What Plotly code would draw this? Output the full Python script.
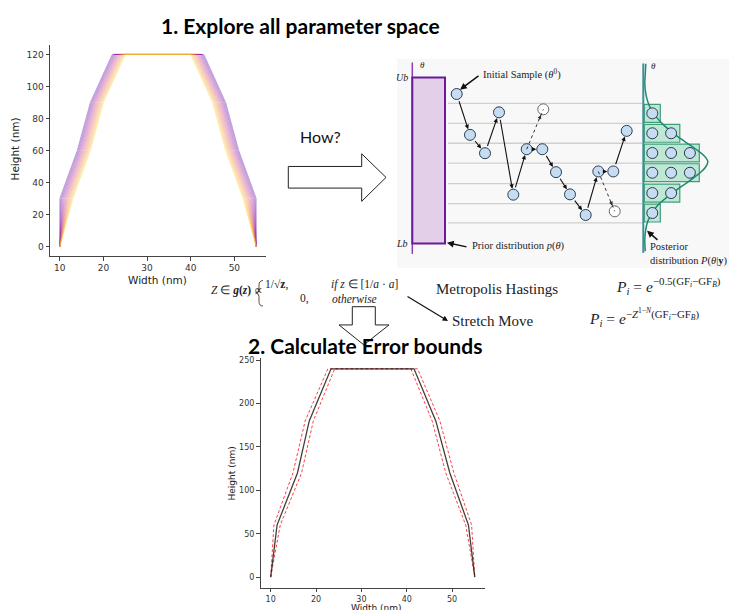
import plotly.graph_objects as go
from plotly.colors import sample_colorscale

W, H = 729, 610

# ---------------- data: top-left chart (parameter sweep) ----------------
sweep_heights = [0, 30, 60, 90, 120, 120, 90, 60, 30, 0]
sweep_base_x = [10, 10, 14, 17, 22, 43, 48, 51, 55, 55]      # outermost (purple) profile
sweep_shift_sign = [0, 1, 1, 1, 1, -1, -1, -1, -1, 0]        # inward direction per vertex
sweep_shifts = [0.0, 0.2, 0.4, 0.6, 0.8, 1.0, 1.2, 1.4, 1.6, 1.8,
                2.0, 2.2, 2.4, 2.6, 2.8, 3.0]
top_xticks = [10, 20, 30, 40, 50]
top_yticks = [0, 20, 40, 60, 80, 100, 120]

# ---------------- data: bottom chart (error bounds) ----------------
eb_heights = [0, 60, 120, 180, 240, 240, 180, 120, 60, 0]
eb_mean = [10, 11.4, 15.9, 18.5, 23.3, 41.6, 46.4, 49.5, 53.6, 55]
eb_outer = [10, 10.7, 14.9, 17.6, 22.6, 42.4, 47.3, 50.4, 54.3, 55]
eb_inner = [10, 12.1, 16.8, 19.4, 24.1, 40.9, 45.6, 48.6, 53.0, 55]
bot_xticks = [10, 20, 30, 40, 50]
bot_yticks = [0, 50, 100, 150, 200, 250]

# ---------------- data: MCMC illustration (canvas units = pixels) ----------------
chain_x = [456.7, 470.0, 485.0, 499.0, 513.3, 526.7, 542.3, 556.0, 570.0, 585.7, 598.3, 613.3, 626.7]
chain_y = [92.3, 133.3, 151.7, 110.7, 193.3, 147.7, 147.7, 170.7, 193.0, 213.7, 170.0, 170.0, 129.3]
reject_from = [5, 10]
reject_x = [543.3, 614.7]
reject_y = [107.7, 210.0]
level_y = [101.7, 121.7, 141.7, 161.7, 182.3, 202.3, 221.7]
hist_counts = [1, 2, 3, 3, 2, 1]
hist_top = [102.7, 122.7, 142.5, 162.3, 182.7, 202.7]
post_y = [62, 72, 82, 92, 100, 108, 116, 124, 132, 140, 148, 154, 160, 166, 172, 180,
          188, 196, 204, 212, 220, 228, 238, 250]
post_dx = [2.5, 2.0, 1.5, 2.5, 4.5, 8.0, 13.5, 21.0, 30.5, 41.5, 53.0, 60.5, 64.5, 62.0,
           56.0, 45.5, 34.0, 23.5, 14.5, 8.5, 4.5, 2.5, 1.5, 2.0]

fig = go.Figure()

# ---- top-left sweep lines ----
cols = sample_colorscale('Plasma', [0.12 + 0.8 * i / (len(sweep_shifts) - 1) for i in range(len(sweep_shifts))])
for s, c in zip(sweep_shifts, cols):
    xs = [bx + s * sg for bx, sg in zip(sweep_base_x, sweep_shift_sign)]
    fig.add_trace(go.Scatter(x=xs, y=sweep_heights, mode='lines', xaxis='x', yaxis='y',
                             line=dict(color=c, width=0.9), opacity=0.38, hoverinfo='skip', showlegend=False))

# ---- bottom error bounds ----
fig.add_trace(go.Scatter(x=eb_outer, y=eb_heights, mode='lines', xaxis='x2', yaxis='y2',
                         line=dict(color='rgba(255,0,0,0.75)', width=1, dash='3px,2px'), showlegend=False))
fig.add_trace(go.Scatter(x=eb_inner, y=eb_heights, mode='lines', xaxis='x2', yaxis='y2',
                         line=dict(color='rgba(255,0,0,0.75)', width=1, dash='3px,2px'), showlegend=False))
fig.add_trace(go.Scatter(x=eb_mean, y=eb_heights, mode='lines', xaxis='x2', yaxis='y2',
                         line=dict(color='rgba(30,30,30,0.85)', width=1.3), showlegend=False))

shapes = []
annos = []

# ---- diagram background ----
shapes.append(dict(type='rect', xref='x3', yref='y3', x0=397, x1=729, y0=57, y1=267,
                   fillcolor='#f8f8f8', line=dict(width=0), layer='below'))
for ly in level_y:
    shapes.append(dict(type='line', xref='x3', yref='y3', x0=448, x1=642, y0=ly, y1=ly,
                       line=dict(color='#cfcfcf', width=1.3), layer='below'))
shapes.append(dict(type='line', xref='x3', yref='y3', x0=412.3, x1=412.3, y0=60.7, y1=252.7,
                   line=dict(color='#8a3fb0', width=1.5)))
shapes.append(dict(type='rect', xref='x3', yref='y3', x0=412.3, x1=445, y0=75.7, y1=242.3,
                   fillcolor='#e4cfe8', line=dict(color='#6a1b9a', width=2)))
shapes.append(dict(type='line', xref='x3', yref='y3', x0=643.3, x1=643.3, y0=61.7, y1=251.7,
                   line=dict(color='#3f8f95', width=2)))
hist_cx, hist_cy = [], []
for cnt, top in zip(hist_counts, hist_top):
    shapes.append(dict(type='rect', xref='x3', yref='y3', x0=644.3, x1=644.3 + 19.5 * cnt - 3.5,
                       y0=top, y1=top + 18, fillcolor='#bfe8d4', line=dict(color='#3f9e7c', width=1.2),
                       layer='below'))
    for k in range(cnt):
        hist_cx.append(652.3 + 18.8 * k)
        hist_cy.append(top + 9)

# hollow "How?" arrow
shapes.append(dict(type='path', xref='x3', yref='y3',
                   path='M288.3,165 L361.7,165 L361.7,152.3 L386,176 L361.7,200 L361.7,186.7 L288.3,186.7 Z',
                   fillcolor='white', line=dict(color='#222', width=1)))
# hollow down arrow
shapes.append(dict(type='path', xref='x3', yref='y3',
                   path='M352.3,305.7 L375.3,305.7 L375.3,324 L389,324 L363.8,344 L339,324 L352.3,324 Z',
                   fillcolor='white', line=dict(color='#222', width=1)))
# curly brace of the piecewise definition
shapes.append(dict(type='path', xref='x3', yref='y3',
                   path='M263,279.5 Q259,279.5 259,284 L259,288.5 Q259,292 255.5,292 Q259,292 259,295.5 '
                        'L259,300.5 Q259,305 263,305',
                   line=dict(color='#6b4436', width=1)))

# posterior curve
fig.add_trace(go.Scatter(x=[643.3 + d for d in post_dx], y=post_y, mode='lines', xaxis='x3', yaxis='y3',
                         line=dict(color='#1f8a6c', width=1.5, shape='spline'), hoverinfo='skip', showlegend=False))
fig.add_trace(go.Scatter(x=chain_x, y=chain_y, mode='markers', xaxis='x3', yaxis='y3',
                         marker=dict(size=11, color='#c6dcf3', line=dict(color='#2c3e50', width=1)),
                         hoverinfo='skip', showlegend=False))
fig.add_trace(go.Scatter(x=reject_x, y=reject_y, mode='markers', xaxis='x3', yaxis='y3',
                         marker=dict(size=11, color='white', line=dict(color='#666', width=1)),
                         hoverinfo='skip', showlegend=False))
fig.add_trace(go.Scatter(x=hist_cx, y=hist_cy, mode='markers', xaxis='x3', yaxis='y3',
                         marker=dict(size=11, color='#c6dcf3', line=dict(color='#2c3e50', width=1)),
                         hoverinfo='skip', showlegend=False))
for i, rx, ry in zip(reject_from, reject_x, reject_y):
    fig.add_trace(go.Scatter(x=[chain_x[i], rx], y=[chain_y[i], ry], mode='lines', xaxis='x3', yaxis='y3',
                             line=dict(color='#333', width=1, dash='dot'), hoverinfo='skip', showlegend=False))
    annos.append(dict(xref='x3', yref='y3', axref='x3', ayref='y3', x=rx, y=ry,
                      ax=chain_x[i] + (rx - chain_x[i]) * 0.7, ay=chain_y[i] + (ry - chain_y[i]) * 0.7,
                      text='', showarrow=True, arrowhead=2, arrowsize=0.8, arrowwidth=1,
                      arrowcolor='#333', standoff=6))
for i in range(len(chain_x) - 1):
    annos.append(dict(xref='x3', yref='y3', axref='x3', ayref='y3', x=chain_x[i + 1], y=chain_y[i + 1],
                      ax=chain_x[i], ay=chain_y[i], text='', showarrow=True, arrowhead=2,
                      arrowsize=0.8, arrowwidth=1.1, arrowcolor='#111', standoff=6, startstandoff=6))

serif = 'Liberation Serif'
def txt(x, y, t, size=10.5, xanchor='left', family=serif, color='#222', **kw):
    d = dict(xref='x3', yref='y3', x=x, y=y, text=t, showarrow=False, xanchor=xanchor, yanchor='middle',
             font=dict(family=family, size=size, color=color))
    d.update(kw)
    annos.append(d)

def arrow(x, y, ax, ay, width=1.5, color='#111'):
    annos.append(dict(xref='x3', yref='y3', axref='x3', ayref='y3', x=x, y=y, ax=ax, ay=ay, text='',
                      showarrow=True, arrowhead=2, arrowsize=0.9, arrowwidth=width, arrowcolor=color))

txt(418, 63, '<i>θ</i>', size=9)
txt(649, 64, '<i>θ</i>', size=9)
txt(410, 76, '<i>Ub</i>', size=10, xanchor='right')
txt(410, 242, '<i>Lb</i>', size=10, xanchor='right')
txt(481, 72, 'Initial Sample (<i>θ</i><sup>0</sup>)', size=10.5)
arrow(460, 88, 480, 73)
txt(470, 245, 'Prior distribution <i>p</i>(<i>θ</i>)', size=10.5)
arrow(447, 241.5, 468, 246)
txt(648, 245, 'Posterior', size=10.5)
txt(648, 259.5, 'distribution <i>P</i>(<i>θ</i>|<b>y</b>)', size=10.5)
arrow(647, 229.5, 659, 240)

txt(320, 135, 'How?', size=16, xanchor='center', family='Lato', color='#111')
txt(209, 289, '<i>Z</i> ∈ <b><i>g</i>(<i>z</i>)</b> ∝', size=11.5)
txt(263, 283.3, '1/√<b>z</b>,', size=11.5)
txt(329, 283.3, '<i>if z</i> ∈ [1/<i>a</i> · <i>a</i>]', size=11.5)
txt(311, 297.7, '0,', size=11.5, xanchor='right')
txt(330, 297.7, '<i>otherwise</i>', size=11.5)
txt(434, 287.7, 'Metropolis Hastings', size=15)
txt(614, 287.7, '<i>P<sub>i</sub></i> = <i>e</i><sup>−0.5(GF<sub><i>i</i></sub>−GF<sub><i>B</i></sub>)</sup>',
    size=15.5, yshift=3)
txt(450, 320, 'Stretch Move', size=15)
txt(587, 320, '<i>P<sub>i</sub></i> = <i>e</i><sup>−<i>Z</i><sup>1−<i>N</i></sup>(GF<sub><i>i</i></sub>−GF<sub><i>B</i></sub>)</sup>',
    size=15.5, yshift=3)
arrow(448, 320, 406, 294.5, width=1.2)

txt(300, 24, '<b>1. Explore all parameter space</b>', size=21, xanchor='center', family='Lato', color='#000')
txt(364.5, 344.5, '<b>2. Calculate Error bounds</b>', size=21, xanchor='center', family='Lato', color='#000')

dv = 'DejaVu Sans'
txt(15, 148, 'Height (nm)', size=10.5, xanchor='center', family=dv, textangle=-90)
txt(157, 279, 'Width (nm)', size=10.5, xanchor='center', family=dv)
txt(232, 473, 'Height (nm)', size=9, xanchor='center', family=dv, textangle=-90)
txt(376, 608, 'Width (nm)', size=9, xanchor='center', family=dv)

def dom_x(a, b):
    return [a / W, b / W]

def dom_y(top, bottom):
    return [1 - bottom / H, 1 - top / H]

axis_common = dict(showgrid=False, zeroline=False, showline=True, linecolor='#444', linewidth=1,
                   ticks='outside', ticklen=3.5, tickwidth=1, tickcolor='#444', fixedrange=True)

fig.update_layout(
    width=W, height=H, margin=dict(l=0, r=0, t=0, b=0),
    paper_bgcolor='white', plot_bgcolor='rgba(0,0,0,0)', showlegend=False,
    xaxis=dict(domain=dom_x(50, 266), range=[7.75, 57.25], anchor='y', tickvals=top_xticks,
               tickfont=dict(family=dv, size=9, color='#333'), **axis_common),
    yaxis=dict(domain=dom_y(43, 255), range=[-6, 126], anchor='x', tickvals=top_yticks,
               tickfont=dict(family=dv, size=9, color='#333'), **axis_common),
    xaxis2=dict(domain=dom_x(260.5, 485), range=[7.75, 57.25], anchor='y2', tickvals=bot_xticks,
                tickfont=dict(family=dv, size=8, color='#333'), **axis_common),
    yaxis2=dict(domain=dom_y(357.6, 587.5), range=[-12, 252], anchor='x2', tickvals=bot_yticks,
                tickfont=dict(family=dv, size=8, color='#333'), **axis_common),
    xaxis3=dict(domain=[0, 1], range=[0, W], anchor='y3', visible=False, fixedrange=True),
    yaxis3=dict(domain=[0, 1], range=[H, 0], anchor='x3', visible=False, fixedrange=True),
    shapes=shapes, annotations=annos,
)

fig.write_html('out.html', config={'displayModeBar': False},
               post_script="document.body.style.margin='0px';")
